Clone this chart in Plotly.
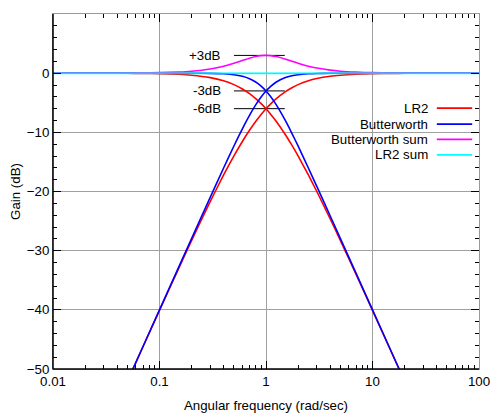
import plotly.graph_objects as go

# ---- data ----
freq = [0.01, 0.02, 0.03, 0.05, 0.07, 0.1, 0.15, 0.2, 0.3, 0.4, 0.5, 0.6, 0.7, 0.8, 0.9,
        1.0, 1.1, 1.25, 1.5, 1.75, 2, 2.5, 3, 4, 5, 7, 10, 15, 20, 30, 50, 100]

lr2_low = [0.0, -0.003, -0.008, -0.022, -0.043, -0.086, -0.193, -0.341, -0.749, -1.289,
           -1.938, -2.671, -3.464, -4.297, -5.154, -6.021, -6.888, -8.173, -10.238, -12.176,
           -13.979, -17.207, -20.0, -24.609, -28.299, -33.979, -40.086, -47.082, -52.063,
           -59.094, -67.962, -80.001]
lr2_high = [-80.001, -67.962, -60.923, -52.063, -46.239, -40.086, -33.150, -28.300, -21.664,
            -17.207, -13.979, -11.545, -9.660, -8.173, -6.984, -6.021, -5.232, -4.297, -3.194,
            -2.454, -1.938, -1.289, -0.915, -0.527, -0.340, -0.175, -0.086, -0.038, -0.022,
            -0.009, -0.003, -0.001]
bw_low = [0.0, 0.0, 0.0, 0.0, -0.0001, -0.0004, -0.002, -0.007, -0.035, -0.110, -0.263,
          -0.529, -0.934, -1.491, -2.191, -3.010, -3.917, -5.367, -7.827, -10.162, -12.304,
          -16.027, -19.138, -24.099, -27.966, -33.806, -40.0, -47.044, -52.041, -59.085,
          -67.959, -80.0]
bw_high = [-80.0, -67.959, -60.915, -52.041, -46.196, -40.0, -32.958, -27.966, -20.950,
           -16.028, -12.304, -9.403, -7.130, -5.367, -4.021, -3.010, -2.261, -1.491, -0.783,
           -0.440, -0.263, -0.109, -0.053, -0.017, -0.007, -0.002, 0.0, 0.0, 0.0, 0.0, 0.0, 0.0]
bw_sum = [0.001, 0.0035, 0.008, 0.022, 0.042, 0.086, 0.191, 0.334, 0.714, 1.179, 1.675,
          2.142, 2.530, 2.806, 2.963, 3.010, 2.971, 2.806, 2.411, 2.014, 1.675, 1.180, 0.862,
          0.510, 0.333, 0.173, 0.086, 0.038, 0.022, 0.009, 0.003, 0.001]
lr2_sum = [0.0] * len(freq)

series_names = ["LR2", "Butterworth", "Butterworth sum", "LR2 sum"]
series_colors = ["#ff0000", "#0000ff", "#ff00ff", "#00ffff"]

marker_levels = [3, -3, -6]
marker_labels = ["+3dB", "-3dB", "-6dB"]

x_tickvals = [0.01, 0.1, 1, 10, 100]
x_ticktext = ["0.01", "0.1", "1", "10", "100"]

FONT = "Liberation Sans, Arial, sans-serif"
FS = 13.3

fig = go.Figure()

curves = [
    (lr2_low, 0), (lr2_high, 0),
    (bw_low, 1), (bw_high, 1),
    (bw_sum, 2),
    (lr2_sum, 3),
]
for ys, idx in curves:
    fig.add_trace(go.Scatter(
        x=freq, y=ys, mode="lines",
        line=dict(color=series_colors[idx], width=2.0 if idx == 3 else 1.6,
                  shape="spline", smoothing=0.6),
        opacity=0.75 if idx == 3 else 1.0,
        showlegend=False, hoverinfo="skip",
    ))

# marker lines and labels
for lvl, lab in zip(marker_levels, marker_labels):
    fig.add_shape(type="line", xref="x", yref="y", x0=0.5, x1=1.5, y0=lvl, y1=lvl,
                  line=dict(color="#000000", width=1), layer="between")
    fig.add_annotation(x=-0.4, y=lvl, xref="x", yref="y", text=lab, showarrow=False,
                       xanchor="right", yanchor="middle",
                       font=dict(family=FONT, size=FS, color="#000000"))

# legend mask box (hides gridlines behind the key)
fig.add_shape(type="rect", xref="paper", yref="paper", x0=0.643, x1=0.993, y0=0.583, y1=0.758,
              line=dict(width=0), fillcolor="white", layer="between")

# custom legend (text right, sample line on the right)
row_y = [0.735, 0.690, 0.647, 0.603]
for name, col, yy in zip(series_names, series_colors, row_y):
    fig.add_annotation(x=0.886, y=yy, xref="paper", yref="paper", text=name, showarrow=False,
                       xanchor="right", yanchor="middle",
                       font=dict(family=FONT, size=FS, color="#000000"))
    fig.add_shape(type="line", xref="paper", yref="paper", x0=0.901, x1=0.984, y0=yy, y1=yy,
                  line=dict(color=col, width=1.8))

# dark left and bottom frame
fig.add_shape(type="line", xref="paper", yref="paper", x0=0, x1=0, y0=0, y1=1,
              line=dict(color="#000000", width=1.5))
fig.add_shape(type="line", xref="paper", yref="paper", x0=0, x1=1, y0=0, y1=0,
              line=dict(color="#000000", width=1.5))

# page body has an 8px margin: figure sized/offset so the plot lands where the reference has it
fig.update_layout(
    width=492, height=409,
    margin=dict(l=45, r=21, t=6, b=48, autoexpand=False),
    paper_bgcolor="white", plot_bgcolor="white",
    font=dict(family=FONT, size=FS, color="#000000"),
    showlegend=False,
)

fig.update_xaxes(
    type="log", range=[-2, 2], automargin=False,
    tickvals=x_tickvals, ticktext=x_ticktext,
    ticks="inside", ticklen=8, tickcolor="#000000", tickwidth=1,
    showline=True, linecolor="#999999", linewidth=1, mirror="ticks",
    showgrid=True, gridcolor="#a0a0a0", gridwidth=1,
    minor=dict(ticks="inside", ticklen=4, tickcolor="#000000", dtick="D1", showgrid=False),
    zeroline=False,
    title=dict(text="Angular frequency (rad/sec)", font=dict(family=FONT, size=FS), standoff=12),
    tickfont=dict(family=FONT, size=FS),
)
fig.update_yaxes(
    range=[-50, 10], dtick=10, automargin=False,
    ticks="inside", ticklen=8, tickcolor="#000000", tickwidth=1,
    showline=True, linecolor="#999999", linewidth=1, mirror="ticks",
    showgrid=True, gridcolor="#a0a0a0", gridwidth=1,
    minor=dict(ticks="inside", ticklen=4, tickcolor="#000000", dtick=2, showgrid=False),
    zeroline=False,
    title=dict(text="Gain (dB)", font=dict(family=FONT, size=FS), standoff=14),
    tickfont=dict(family=FONT, size=FS),
)

fig.write_html("out.html")
